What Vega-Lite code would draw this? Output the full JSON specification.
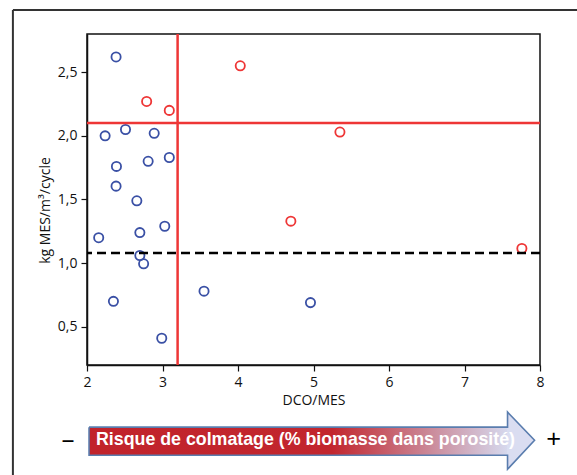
{
  "$schema": "https://vega.github.io/schema/vega-lite/v6.json",
  "width": 453,
  "height": 331,
  "autosize": {"type": "none"},
  "padding": {"left": 87, "top": 34, "right": 37, "bottom": 110},
  "background": "white",
  "config": {
    "view": {"stroke": "#111111", "strokeWidth": 1.5},
    "font": "Open Sans",
    "axis": {"grid": false, "domainColor": "#111111", "tickColor": "#111111", "labelColor": "#111111", "titleColor": "#111111", "labelFontSize": 14, "titleFontSize": 14, "titleFontWeight": "normal", "tickSize": 6, "domainWidth": 1.5, "tickWidth": 1.2, "labelFlush": false}
  },
  "datasets": {
    "points": [
      {"dco_mes": 2.385, "kg": 2.62, "risque": "faible"},
      {"dco_mes": 2.24, "kg": 2.0, "risque": "faible"},
      {"dco_mes": 2.51, "kg": 2.05, "risque": "faible"},
      {"dco_mes": 2.89, "kg": 2.02, "risque": "faible"},
      {"dco_mes": 2.39, "kg": 1.76, "risque": "faible"},
      {"dco_mes": 2.81, "kg": 1.8, "risque": "faible"},
      {"dco_mes": 3.09, "kg": 1.83, "risque": "faible"},
      {"dco_mes": 2.385, "kg": 1.605, "risque": "faible"},
      {"dco_mes": 2.66, "kg": 1.49, "risque": "faible"},
      {"dco_mes": 3.03, "kg": 1.29, "risque": "faible"},
      {"dco_mes": 2.155, "kg": 1.2, "risque": "faible"},
      {"dco_mes": 2.7, "kg": 1.24, "risque": "faible"},
      {"dco_mes": 2.7, "kg": 1.06, "risque": "faible"},
      {"dco_mes": 2.75, "kg": 0.995, "risque": "faible"},
      {"dco_mes": 2.35, "kg": 0.7, "risque": "faible"},
      {"dco_mes": 2.99, "kg": 0.41, "risque": "faible"},
      {"dco_mes": 3.55, "kg": 0.78, "risque": "faible"},
      {"dco_mes": 4.96, "kg": 0.69, "risque": "faible"},
      {"dco_mes": 2.79, "kg": 2.27, "risque": "eleve"},
      {"dco_mes": 3.09, "kg": 2.2, "risque": "eleve"},
      {"dco_mes": 4.03, "kg": 2.55, "risque": "eleve"},
      {"dco_mes": 5.35, "kg": 2.03, "risque": "eleve"},
      {"dco_mes": 4.7, "kg": 1.33, "risque": "eleve"},
      {"dco_mes": 7.76, "kg": 1.116, "risque": "eleve"}
    ],
    "seuil_x": [{"dco_mes": 3.2}],
    "seuil_y": [{"kg": 2.1}],
    "moyenne": [{"kg": 1.08}],
    "corps": [{"dco_mes": 2.027, "dco_mes2": 7.575, "kg": -0.288, "kg2": -0.509}],
    "pointe": [
      {"i": 1, "dco_mes": 7.565, "kg": -0.17, "kg2": -0.619},
      {"i": 2, "dco_mes": 7.928, "kg": -0.391, "kg2": -0.391}
    ],
    "contour": [
      {"i": 1, "dco_mes": 2.027, "kg": -0.288},
      {"i": 2, "dco_mes": 7.57, "kg": -0.288},
      {"i": 3, "dco_mes": 7.57, "kg": -0.17},
      {"i": 4, "dco_mes": 7.928, "kg": -0.391},
      {"i": 5, "dco_mes": 7.57, "kg": -0.619},
      {"i": 6, "dco_mes": 7.57, "kg": -0.509},
      {"i": 7, "dco_mes": 2.027, "kg": -0.509},
      {"i": 8, "dco_mes": 2.027, "kg": -0.288}
    ],
    "cadre": [
      {"dco_mes": 1.0186, "dco_mes2": 1.0186, "kg": 2.989, "kg2": -0.75},
      {"dco_mes": 1.0186, "dco_mes2": 8.6, "kg": 2.989, "kg2": 2.989}
    ],
    "texte": [{"dco_mes": 2.119, "kg": -0.391, "label": "Risque de colmatage (% biomasse dans porosité)"}],
    "signes": [
      {"dco_mes": 1.748, "kg": -0.391, "label": "–"},
      {"dco_mes": 8.18, "kg": -0.391, "label": "+"}
    ]
  },
  "layer": [
    {
      "data": {"name": "points"},
      "mark": {"type": "point", "filled": false, "size": 85, "strokeWidth": 1.8, "opacity": 1},
      "encoding": {
        "x": {
          "field": "dco_mes", "type": "quantitative",
          "scale": {"domain": [2, 8], "nice": false, "zero": false},
          "axis": {"title": "DCO/MES", "values": [2, 3, 4, 5, 6, 7, 8], "format": "d", "labelPadding": 4, "titlePadding": 4}
        },
        "y": {
          "field": "kg", "type": "quantitative",
          "scale": {"domain": [0.2, 2.8], "nice": false, "zero": false},
          "axis": {"title": "kg MES/m³/cycle", "titleFontSize": 14, "titleY": 176, "values": [0.5, 1, 1.5, 2, 2.5], "labelExpr": "replace(format(datum.value, '.1f'), '.', ',')", "labelPadding": 4, "titlePadding": 5}
        },
        "color": {"field": "risque", "type": "nominal", "scale": {"domain": ["faible", "eleve"], "range": ["#3A50A5", "#EE3636"]}, "legend": null}
      }
    },
    {
      "data": {"name": "cadre"},
      "mark": {"type": "rule", "color": "#333333", "strokeWidth": 2},
      "encoding": {
        "x": {"field": "dco_mes", "type": "quantitative"},
        "x2": {"field": "dco_mes2"},
        "y": {"field": "kg", "type": "quantitative"},
        "y2": {"field": "kg2"}
      }
    },
    {
      "data": {"name": "seuil_x"},
      "mark": {"type": "rule", "color": "#EE3636", "strokeWidth": 2.5},
      "encoding": {
        "x": {"field": "dco_mes", "type": "quantitative"}
      }
    },
    {
      "data": {"name": "seuil_y"},
      "mark": {"type": "rule", "color": "#EE3636", "strokeWidth": 2.5},
      "encoding": {
        "y": {"field": "kg", "type": "quantitative"}
      }
    },
    {
      "data": {"name": "moyenne"},
      "mark": {"type": "rule", "color": "#000000", "strokeWidth": 2.5, "strokeDash": [9, 5]},
      "encoding": {
        "y": {"field": "kg", "type": "quantitative"}
      }
    },
    {
      "data": {"name": "corps"},
      "mark": {
        "type": "rect", "opacity": 1,
        "fill": {"gradient": "linear", "x1": 0, "y1": 0, "x2": 1, "y2": 0, "stops": [
          {"offset": 0, "color": "#C1232B"},
          {"offset": 0.58, "color": "#C2262E"},
          {"offset": 0.82, "color": "#CB8C9C"},
          {"offset": 1, "color": "#D6D9EE"}
        ]}
      },
      "encoding": {
        "x": {"field": "dco_mes", "type": "quantitative"},
        "x2": {"field": "dco_mes2"},
        "y": {"field": "kg", "type": "quantitative"},
        "y2": {"field": "kg2"}
      }
    },
    {
      "data": {"name": "pointe"},
      "mark": {"type": "area", "opacity": 1, "color": "#DADDF1"},
      "encoding": {
        "x": {"field": "dco_mes", "type": "quantitative"},
        "y": {"field": "kg", "type": "quantitative"},
        "y2": {"field": "kg2"}
      }
    },
    {
      "data": {"name": "contour"},
      "mark": {"type": "line", "color": "#5A7DAE", "strokeWidth": 1.6},
      "encoding": {
        "x": {"field": "dco_mes", "type": "quantitative"},
        "y": {"field": "kg", "type": "quantitative"},
        "order": {"field": "i", "type": "quantitative"}
      }
    },
    {
      "data": {"name": "texte"},
      "mark": {"type": "text", "font": "Liberation Sans", "fontWeight": "bold", "fontSize": 17.8, "color": "#FFFFFF", "align": "left", "baseline": "middle"},
      "encoding": {
        "x": {"field": "dco_mes", "type": "quantitative"},
        "y": {"field": "kg", "type": "quantitative"},
        "text": {"field": "label"}
      }
    },
    {
      "data": {"name": "signes"},
      "mark": {"type": "text", "font": "Open Sans", "fontSize": 26, "color": "#000000", "align": "center", "baseline": "middle"},
      "encoding": {
        "x": {"field": "dco_mes", "type": "quantitative"},
        "y": {"field": "kg", "type": "quantitative"},
        "text": {"field": "label"}
      }
    }
  ]
}
